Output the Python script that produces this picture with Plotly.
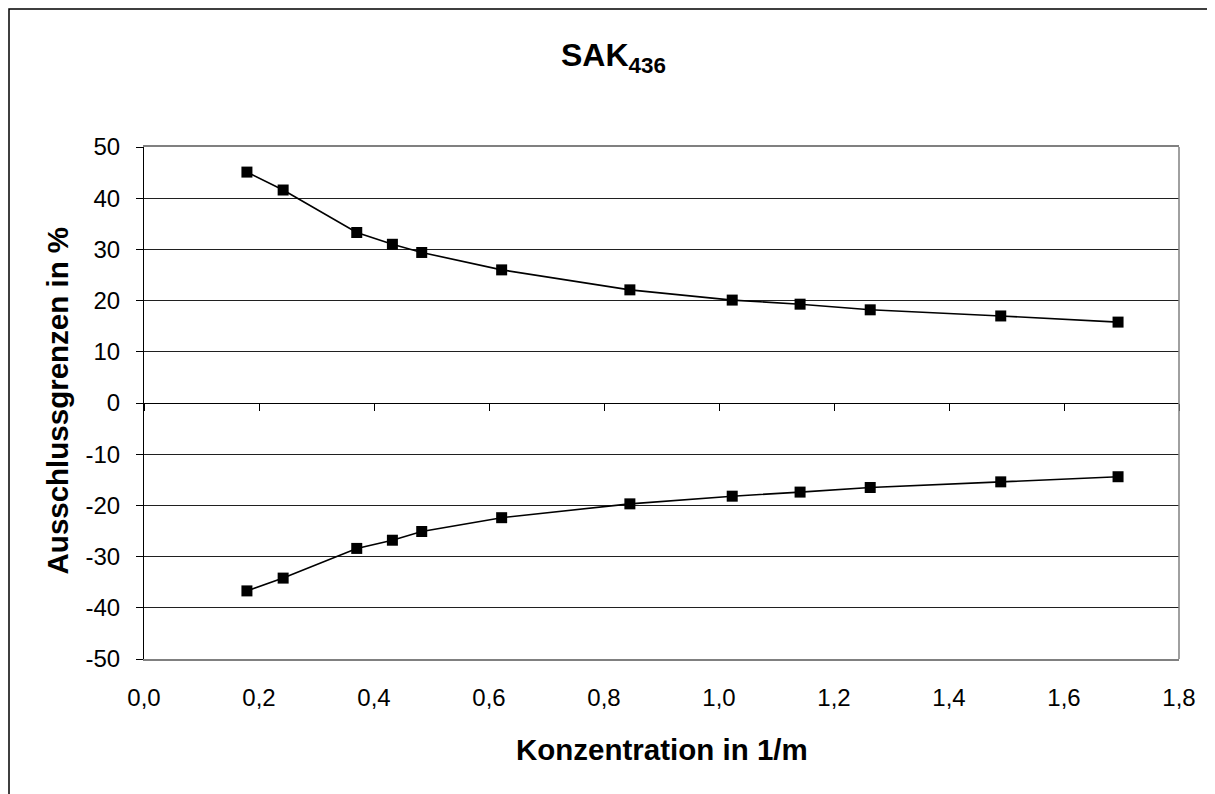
import plotly.graph_objects as go

# Data
konzentration = [0.179, 0.242, 0.370, 0.432, 0.483, 0.622, 0.845, 1.023, 1.141, 1.263, 1.490, 1.694]
obere_grenze = [45.1, 41.6, 33.3, 31.0, 29.4, 26.0, 22.1, 20.1, 19.3, 18.2, 17.0, 15.8]
untere_grenze = [-36.7, -34.2, -28.4, -26.8, -25.1, -22.4, -19.7, -18.2, -17.4, -16.5, -15.4, -14.4]

x_tickvals = [0.0, 0.2, 0.4, 0.6, 0.8, 1.0, 1.2, 1.4, 1.6, 1.8]
x_ticktext = ["0,0", "0,2", "0,4", "0,6", "0,8", "1,0", "1,2", "1,4", "1,6", "1,8"]
y_tickvals = [-50, -40, -30, -20, -10, 0, 10, 20, 30, 40, 50]
y_ticktext = ["-50", "-40", "-30", "-20", "-10", "0", "10", "20", "30", "40", "50"]

title_text = "<b>SAK<sub>436</sub></b>"
x_title = "<b>Konzentration in 1/m</b>"
y_title = "<b>Ausschlussgrenzen in %</b>"

FONT = "Liberation Sans, Arial, sans-serif"

# the page adds an 8 px body margin; plot area target: x 144..1179, y 147..659
fig = go.Figure()
for series in (obere_grenze, untere_grenze):
    fig.add_trace(go.Scatter(
        x=konzentration, y=series, mode="lines+markers",
        line=dict(color="black", width=1.6),
        marker=dict(symbol="square", size=11, color="black"),
        showlegend=False, hoverinfo="x+y",
    ))
# invisible trace to host the zero-line axis with ticks
fig.add_trace(go.Scatter(x=[None], y=[None], xaxis="x2", yaxis="y", mode="markers",
                         showlegend=False, hoverinfo="skip"))

# outer chart frame (left and top edges; the others lie outside the picture)
fx0 = (9 - 144) / 1035
fx1 = (1240 - 144) / 1035
fy0 = (659 - 820) / 512
fy1 = (659 - 9) / 512
frame_path = f"M {fx0},{fy0} L {fx0},{fy1} L {fx1},{fy1}"

fig.update_layout(
    width=1215, height=794, autosize=False,
    margin=dict(l=136, r=44, t=139, b=143),
    paper_bgcolor="white", plot_bgcolor="white",
    font=dict(family=FONT, color="black", size=24),
    xaxis=dict(
        range=[0, 1.8], tickvals=x_tickvals, ticktext=x_ticktext,
        showgrid=False, zeroline=False, showline=True, linecolor="#808080",
        linewidth=1.5, mirror=True, ticks="", ticklabelstandoff=16,
        tickfont=dict(size=24, family=FONT),
    ),
    xaxis2=dict(
        range=[0, 1.8], tickvals=x_tickvals, overlaying="x", anchor="free",
        position=0.5, side="bottom", showgrid=False, zeroline=False,
        showline=True, linecolor="black", linewidth=1, ticks="outside",
        ticklen=7, tickcolor="black", tickwidth=1, showticklabels=False,
    ),
    yaxis=dict(
        range=[-50, 50], tickvals=y_tickvals, ticktext=y_ticktext,
        showgrid=True, gridcolor="#202020", gridwidth=1, zeroline=False,
        showline=True, linecolor="black", linewidth=1.2, ticks="outside",
        ticklen=7, tickcolor="black", ticklabelstandoff=11,
        tickfont=dict(size=24, family=FONT),
    ),
    shapes=[
        dict(type="line", xref="paper", yref="paper", x0=1, x1=1, y0=0, y1=1,
             line=dict(color="#808080", width=1.5)),
        dict(type="path", xref="paper", yref="paper", path=frame_path,
             line=dict(color="black", width=1.5)),
    ],
    annotations=[
        dict(text=title_text, xref="paper", yref="paper",
             x=(613 - 144) / 1035, y=(659 - 57) / 512,
             xanchor="center", yanchor="middle", showarrow=False,
             font=dict(size=32, family=FONT, color="black")),
        dict(text=x_title, xref="paper", yref="paper",
             x=(662 - 144) / 1035, y=(659 - 749) / 512,
             xanchor="center", yanchor="middle", showarrow=False,
             font=dict(size=29.5, family=FONT, color="black")),
        dict(text=y_title, xref="paper", yref="paper",
             x=(57 - 144) / 1035, y=0.505, textangle=-90,
             xanchor="center", yanchor="middle", showarrow=False,
             font=dict(size=29.5, family=FONT, color="black")),
    ],
)

fig.write_html("out.html")
